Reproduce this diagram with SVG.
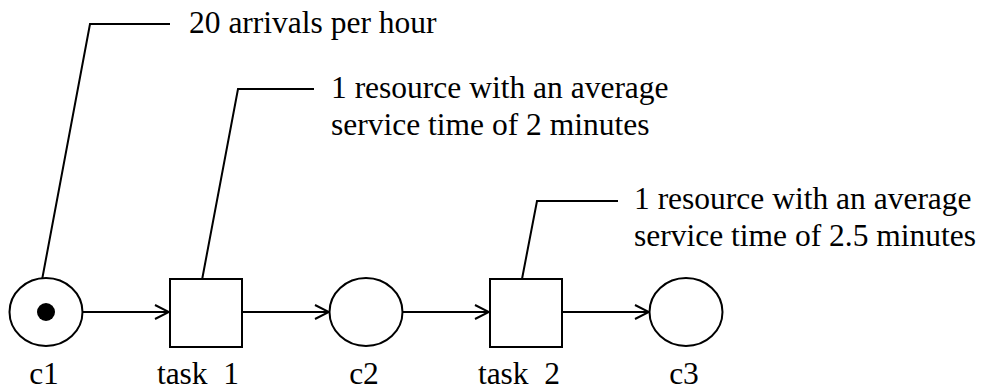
<svg xmlns="http://www.w3.org/2000/svg" width="990" height="390" viewBox="0 0 990 390">
<defs>
<marker id="arr" markerWidth="16" markerHeight="16" viewBox="-15 -8 16 16" refX="0" refY="0" orient="auto" markerUnits="userSpaceOnUse">
<path d="M-14,-7 L0,0 L-14,7" fill="none" stroke="#000" stroke-width="2"/>
</marker>
</defs>
<rect width="990" height="390" fill="#fff"/>
<g id="connectors" fill="none" stroke="#000" stroke-width="2">
<line x1="82" y1="312" x2="169" y2="312" marker-end="url(#arr)"/>
<line x1="242" y1="312" x2="329" y2="312" marker-end="url(#arr)"/>
<line x1="403" y1="312" x2="489" y2="312" marker-end="url(#arr)"/>
<line x1="562" y1="312" x2="649" y2="312" marker-end="url(#arr)"/>
</g>
<g id="callouts">
<g fill="none" stroke="#000" stroke-width="2">
<polyline points="42,280 90,24 170,24"/>
<polyline points="202,280 238,89 314,89"/>
<polyline points="522,279 537,201 618,201"/>
</g>
<g font-family="'Liberation Serif', 'Times New Roman', serif" font-size="31.5" fill="#000">
<text x="189" y="33">20 arrivals per hour</text>
<text x="331" y="98">1 resource with an average</text>
<text x="331" y="135">service time of 2 minutes</text>
<text x="634" y="209">1 resource with an average</text>
<text x="634" y="246">service time of 2.5 minutes</text>
</g>
</g>
<g font-family="'Liberation Serif', 'Times New Roman', serif" font-size="31.5" text-anchor="middle">
<g id="c1">
<ellipse cx="46" cy="312" rx="36.5" ry="34" fill="#fff" stroke="#000" stroke-width="2"/>
<circle cx="46" cy="312" r="9" fill="#000"/>
<text x="44" y="384">c1</text>
</g>
<g id="task1">
<rect x="170" y="279" width="72" height="68" fill="#fff" stroke="#000" stroke-width="2"/>
<text x="198" y="384" xml:space="preserve">task  1</text>
</g>
<g id="c2">
<ellipse cx="366" cy="312" rx="36.5" ry="34" fill="#fff" stroke="#000" stroke-width="2"/>
<text x="364" y="384">c2</text>
</g>
<g id="task2">
<rect x="490" y="279" width="72" height="68" fill="#fff" stroke="#000" stroke-width="2"/>
<text x="519" y="384" xml:space="preserve">task  2</text>
</g>
<g id="c3">
<ellipse cx="686" cy="312" rx="36.5" ry="34" fill="#fff" stroke="#000" stroke-width="2"/>
<text x="684" y="384">c3</text>
</g>
</g>
</svg>
